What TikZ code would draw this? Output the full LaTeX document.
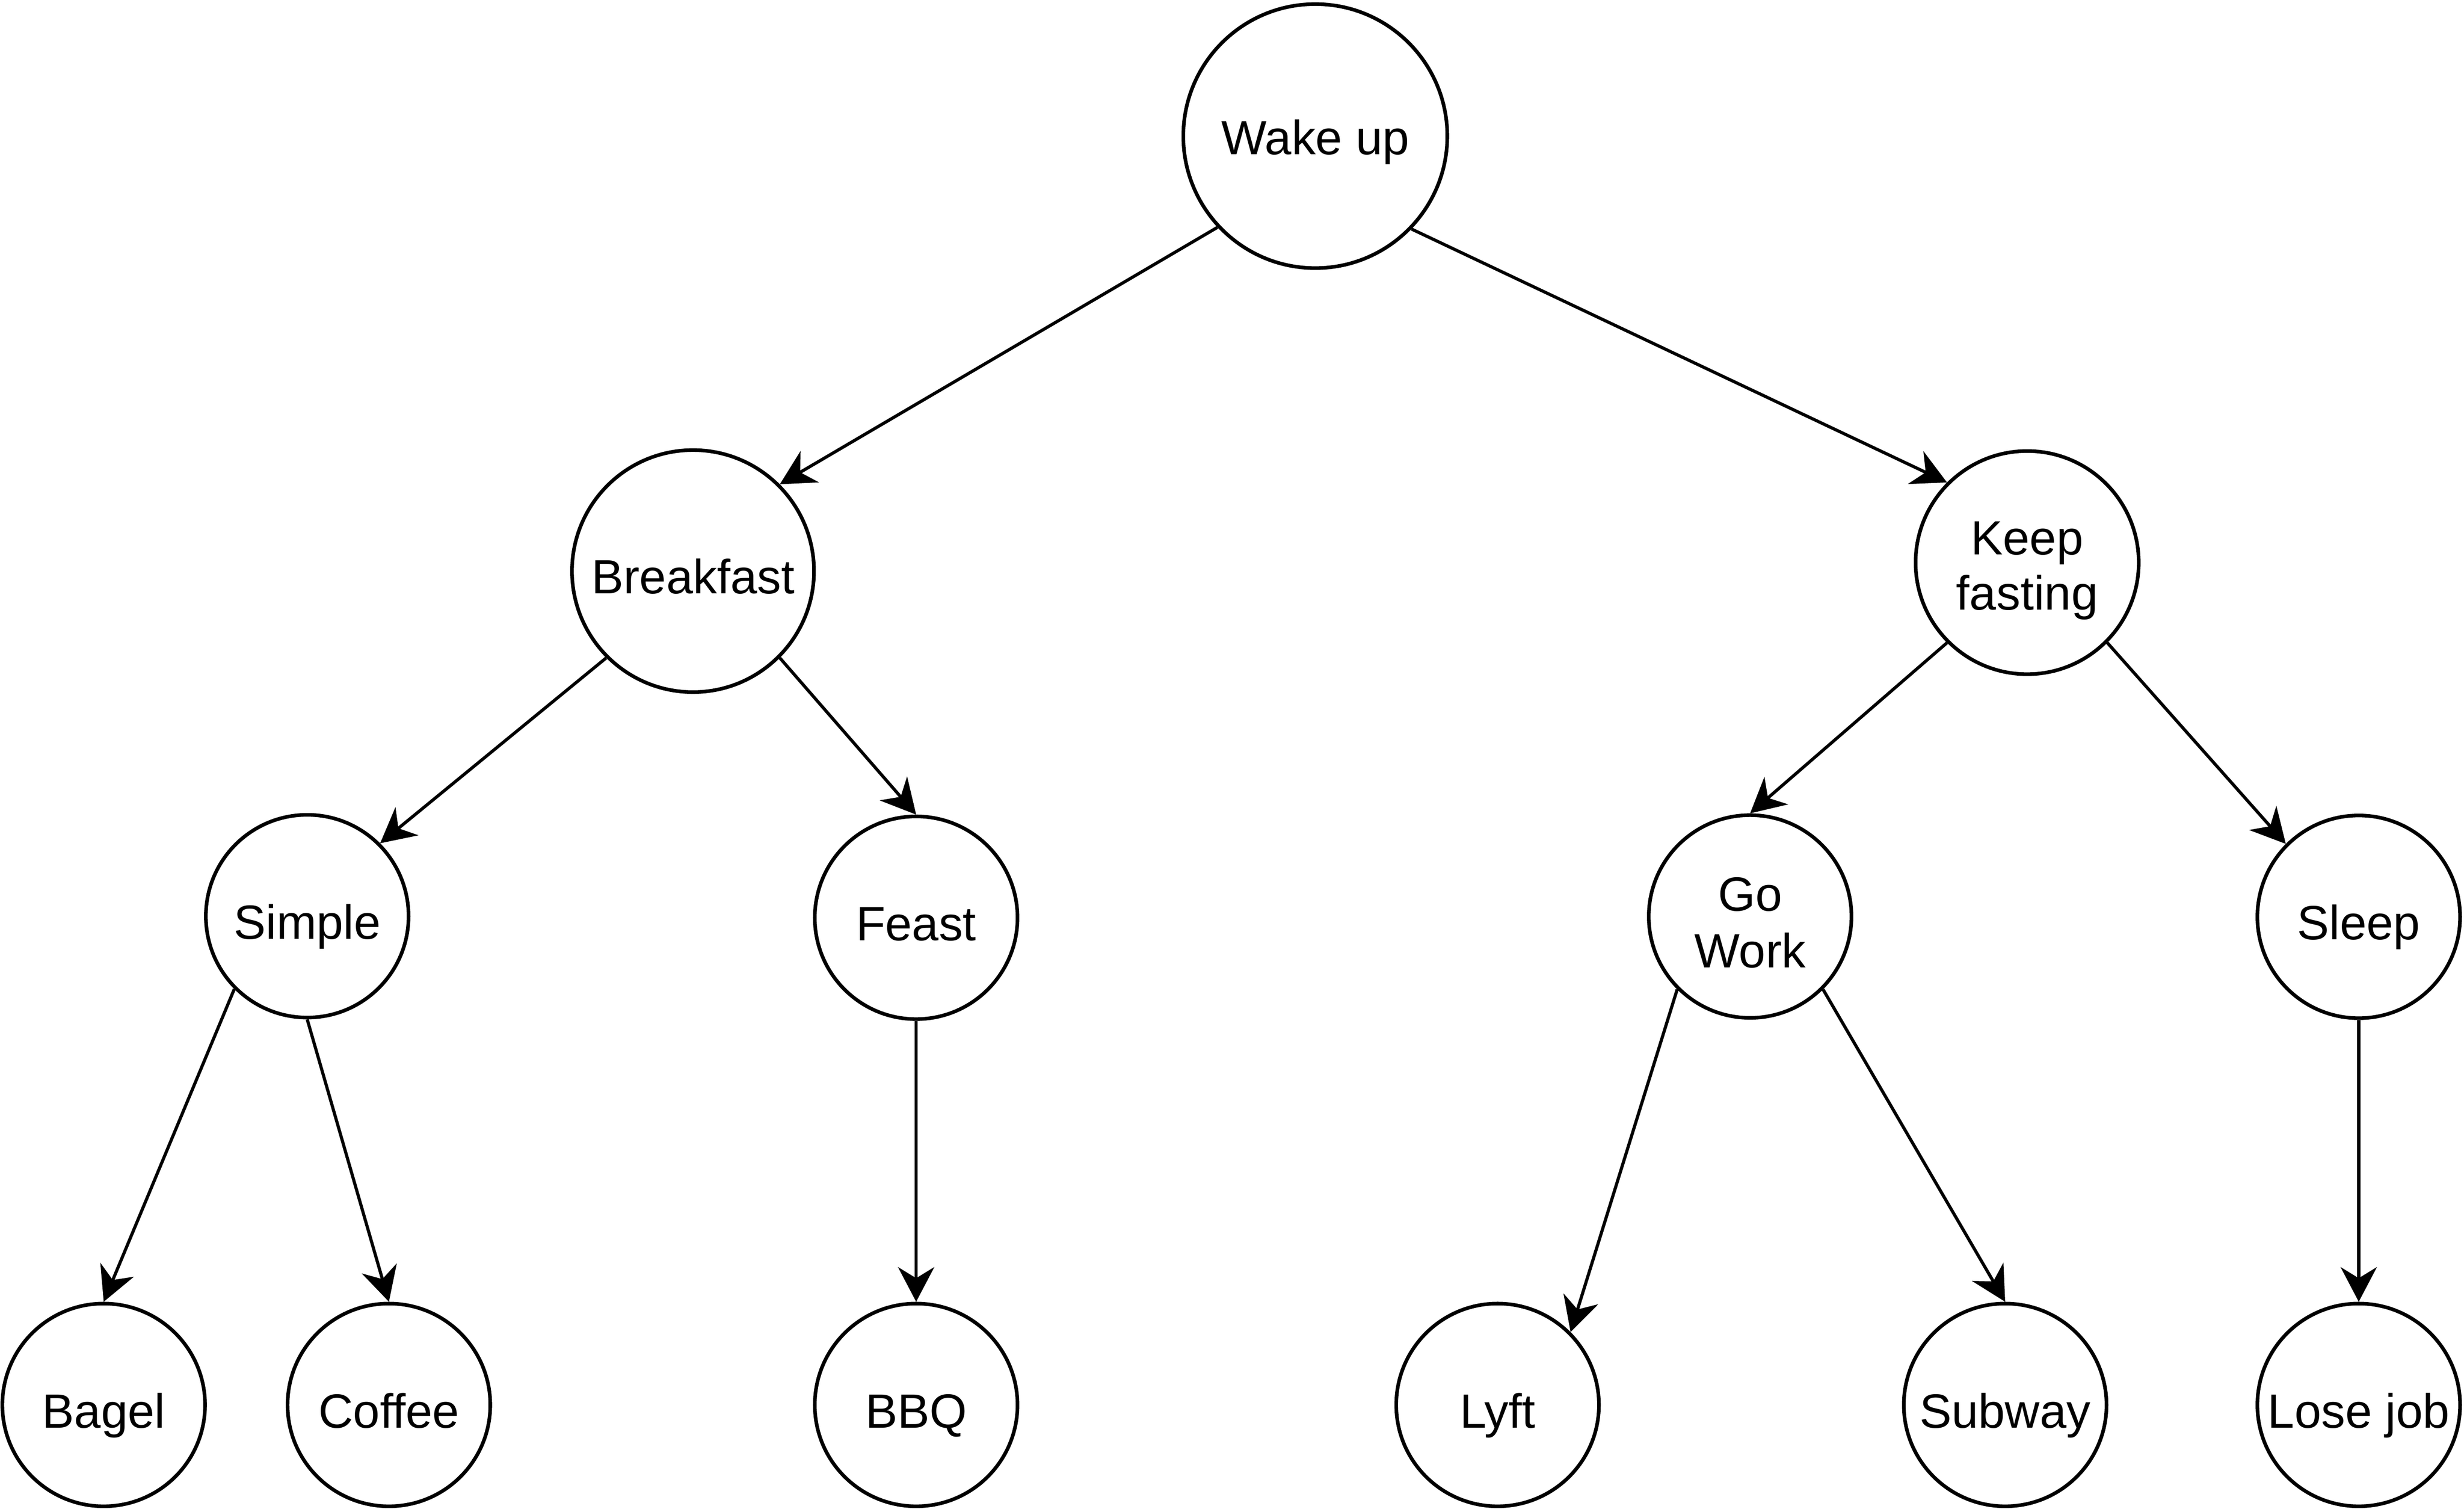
\documentclass[tikz,border=0pt]{standalone}
\usepackage{fontspec}
\setmainfont{Liberation Sans}
\usetikzlibrary{arrows.meta}
\newcommand\lbl[2]{\makebox[0pt]{\raisebox{-#1}{#2}}}
\newcommand\lblii[4]{\makebox[0pt]{\raisebox{#1}{#2}}\makebox[0pt]{\raisebox{-#3}{#4}}}
\begin{document}
\begin{tikzpicture}[x=0.5pt,y=-0.5pt,
  circ/.style={circle,draw=black,line width=1.15pt,fill=white,inner sep=0pt,
    text height=0pt,text depth=0pt,
    font=\fontsize{15.3pt}{18.2pt}\selectfont},
  big/.style={circ,minimum size=84pt},
  mid/.style={circ,minimum size=77pt},
  kf/.style={circ,minimum size=71pt},
  small/.style={circ,minimum size=64.5pt},
  conn/.style={line width=1pt,-{Stealth[length=11pt,width=11.5pt,inset=3.5pt]}}]
\useasboundingbox (0,0) rectangle (1568,960);
\fill[white] (0,0) rectangle (1568,960);
\node[big]   (wake)      at (837,86.6)   {\lbl{5.9pt}{Wake up}};
\node[mid]   (breakfast) at (441,363.4)  {\lbl{7.1pt}{Breakfast}};
\node[kf]    (keep)      at (1290,358)   {\lblii{2.5pt}{Keep}{15.1pt}{fasting}};
\node[small] (simple)    at (195.5,583)  {\lbl{7.3pt}{Simple}};
\node[small] (feast)     at (583,584)    {\lbl{7.3pt}{Feast}};
\node[small] (gowork)    at (1113.7,583.2) {\lblii{1.8pt}{Go}{16.3pt}{Work}};
\node[small] (sleep)     at (1501,583.4) {\lbl{7.3pt}{Sleep}};
\node[small] (bagel)     at (66,894)     {\lbl{7.3pt}{Bagel}};
\node[small] (coffee)    at (247.5,894)  {\lbl{7.3pt}{Coffee}};
\node[small] (bbq)       at (583,894)    {\lbl{7.3pt}{BBQ}};
\node[small] (lyft)      at (953,894)    {\lbl{7.3pt}{Lyft}};
\node[small] (subway)    at (1276,894)   {\lbl{7.3pt}{Subway}};
\node[small] (losejob)   at (1501,894)   {\lbl{7.3pt}{Lose job}};
\draw[conn] (wake.223) -- (breakfast.45);
\draw[conn] (wake.316) -- (keep.135);
\draw[conn] (breakfast.225) -- (simple.45);
\draw[conn] (breakfast.315) -- (feast.90);
\draw[conn] (keep.225) -- (gowork.90);
\draw[conn] (keep.315) -- (sleep.135);
\draw[conn] (simple.225) -- (bagel.90);
\draw[conn] (simple.270) -- (coffee.90);
\draw[conn] (feast.270) -- (bbq.90);
\draw[conn] (gowork.225) -- (lyft.45);
\draw[conn] (gowork.315) -- (subway.90);
\draw[conn] (sleep.270) -- (losejob.90);
\end{tikzpicture}
\end{document}
